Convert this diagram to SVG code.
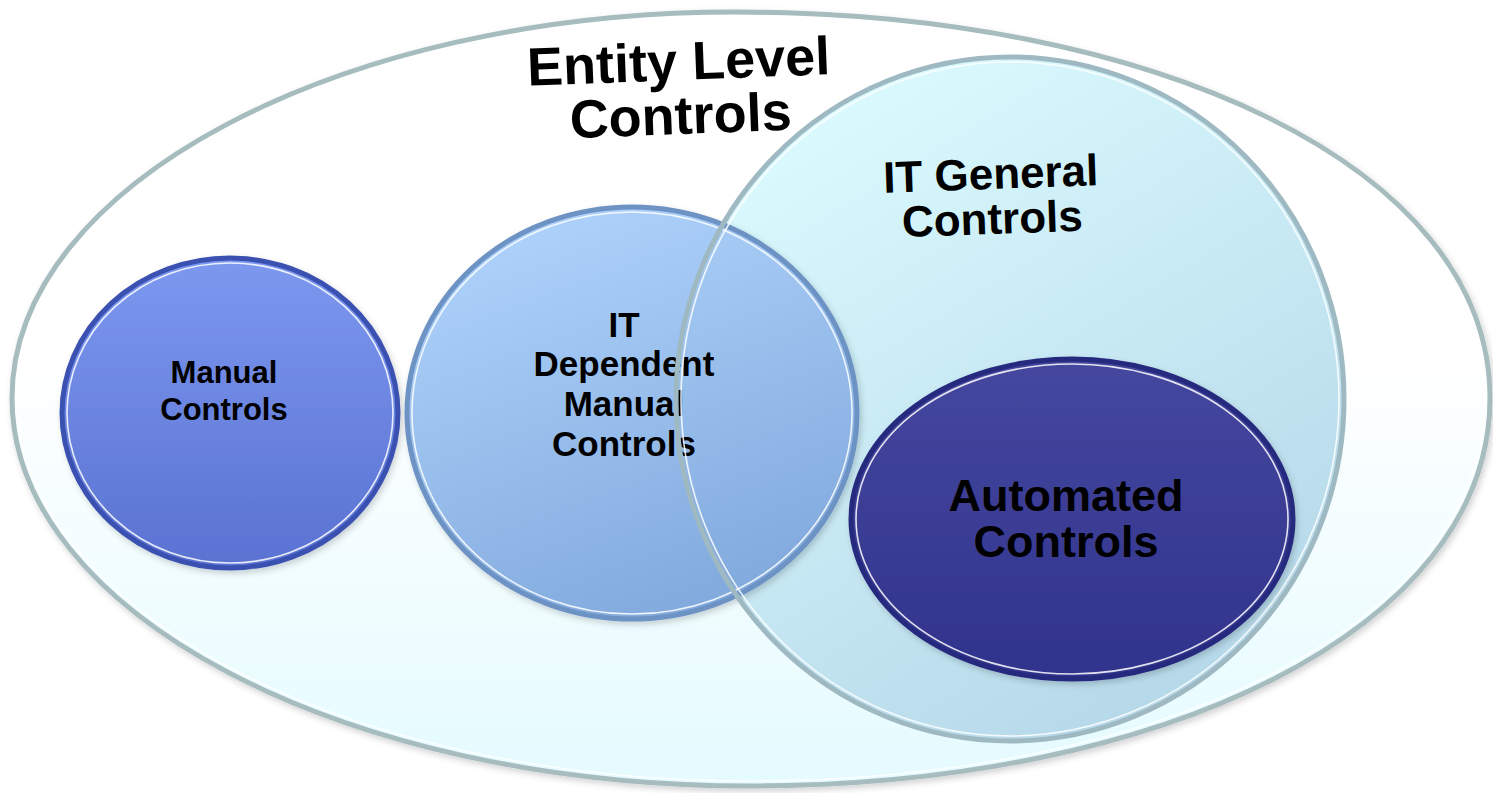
<svg xmlns="http://www.w3.org/2000/svg" width="1493" height="793" viewBox="0 0 1493 793">
<defs>
<linearGradient id="gOuter" x1="0" y1="0" x2="0" y2="1">
<stop offset="0" stop-color="#ffffff"/>
<stop offset="0.45" stop-color="#ffffff"/>
<stop offset="1" stop-color="#e4fbff"/>
</linearGradient>
<linearGradient id="gGen" x1="0.2" y1="0" x2="0.8" y2="1">
<stop offset="0" stop-color="#dcfcff"/>
<stop offset="1" stop-color="#b3d6e8"/>
</linearGradient>
<linearGradient id="gMan" x1="0" y1="0" x2="0" y2="1">
<stop offset="0" stop-color="#7c98ef"/>
<stop offset="1" stop-color="#5a72d2"/>
</linearGradient>
<linearGradient id="gDep" x1="0.3" y1="0" x2="0.7" y2="1">
<stop offset="0" stop-color="#aed2fb"/>
<stop offset="1" stop-color="#80a8dc"/>
</linearGradient>
<linearGradient id="gAuto" x1="0" y1="0" x2="0" y2="1">
<stop offset="0" stop-color="#45479f"/>
<stop offset="1" stop-color="#31338c"/>
</linearGradient>
<filter id="sh" x="-5%" y="-5%" width="110%" height="110%">
<feDropShadow dx="2" dy="3" stdDeviation="3" flood-color="#000" flood-opacity="0.18"/>
</filter>
</defs>
<style>
text{font-family:"Liberation Sans",Arial,sans-serif;font-weight:bold;fill:#000;text-anchor:middle}
.hl{fill:none;stroke:#ffffff;stroke-width:1.6;opacity:0.85}
</style>

<g id="entity-level">
<path d="M1490 398 C1490 630 1160 786 750 786 C340 786 12 611 12 398 C12 185 340 12 735 12 C1150 12 1490 165 1490 398 Z" fill="url(#gOuter)" stroke="#a6bcbf" stroke-width="5" filter="url(#sh)"/>
<path d="M1485 398 C1485 626 1157 781 750 781 C343 781 17 608 17 398 C17 188 343 17 735 17 C1147 17 1485 168 1485 398 Z" class="hl"/>
<g transform="rotate(-2.2 680 100)">
<text x="680" y="80" font-size="54">Entity Level</text>
<text x="680" y="134" font-size="54">Controls</text>
</g>
</g>

<g id="it-general">
<ellipse cx="1010" cy="399" rx="334" ry="342" fill="url(#gGen)"/>
</g>

<g id="manual">
<ellipse cx="230" cy="413" rx="168" ry="155" fill="url(#gMan)" stroke="#3b51b2" stroke-width="5" filter="url(#sh)"/>
<ellipse cx="230" cy="413" rx="163" ry="150" class="hl"/>
<text x="224" y="383" font-size="31">Manual</text>
<text x="224" y="420" font-size="31">Controls</text>
</g>

<g id="it-dependent">
<ellipse cx="632" cy="413" rx="225" ry="206" fill="url(#gDep)" stroke="#6d93c5" stroke-width="5" filter="url(#sh)"/>
<ellipse cx="632" cy="413" rx="220" ry="201" class="hl"/>
<text x="624" y="337" font-size="35">IT</text>
<text x="624" y="376" font-size="35">Dependent</text>
<text x="624" y="416" font-size="35">Manual</text>
<text x="624" y="456" font-size="35">Controls</text>
</g>

<g id="it-general-outline">
<ellipse cx="1010" cy="399" rx="334" ry="342" fill="none" stroke="#9fb9c3" stroke-width="5"/>
<ellipse cx="1010" cy="399" rx="329" ry="337" class="hl"/>
<g transform="rotate(-2 990 210)">
<text x="992" y="189" font-size="44">IT General</text>
<text x="992" y="234" font-size="44">Controls</text>
</g>
</g>

<g id="automated">
<ellipse cx="1072" cy="519" rx="221" ry="160" fill="url(#gAuto)" stroke="#282a7e" stroke-width="5" filter="url(#sh)"/>
<ellipse cx="1072" cy="519" rx="216" ry="155" class="hl" opacity="0.6"/>
<text x="1066" y="511" font-size="45">Automated</text>
<text x="1066" y="557" font-size="45">Controls</text>
</g>

<g id="connectors"/>
</svg>
